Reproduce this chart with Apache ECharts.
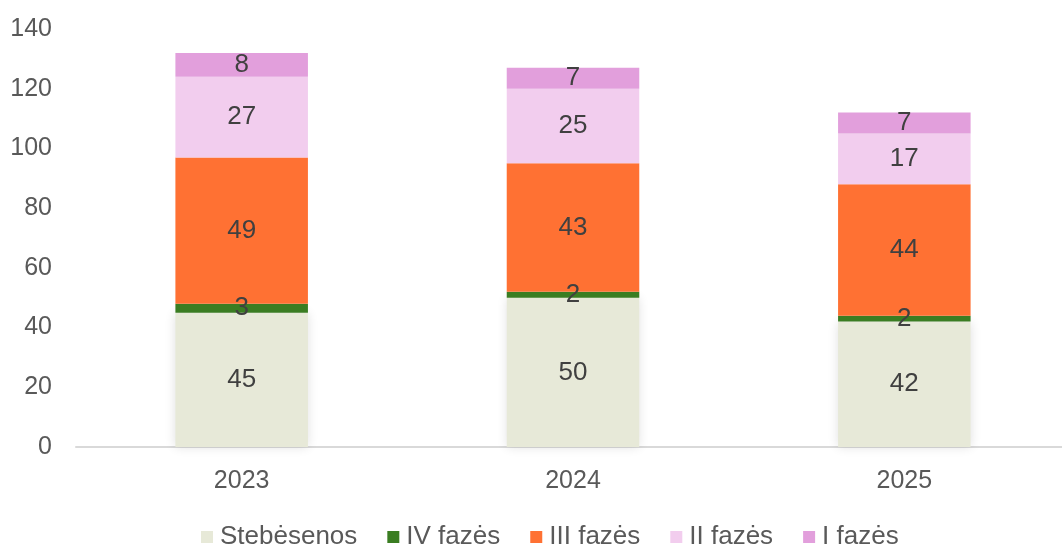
<!DOCTYPE html>
<html>
<head>
<meta charset="utf-8">
<script src="https://cdn.jsdelivr.net/npm/echarts@6/dist/echarts.min.js"></script>
<style>
  html, body { margin: 0; padding: 0; background: #fff; }
  #chart { width: 1062px; height: 544px; }
</style>
</head>
<body>
<div id="chart"></div>
<script>
const years = ['2023', '2024', '2025']
const seriesNames = ['Stebėsenos', 'IV fazės', 'III fazės', 'II fazės', 'I fazės']
const stebesenos = [45, 50, 42]
const faze4 = [3, 2, 2]
const faze3 = [49, 43, 44]
const faze2 = [27, 25, 17]
const faze1 = [8, 7, 7]
const colors = ['#e7e9d8', '#3a7d22', '#ff7133', '#f2cdee', '#e29fdc']

const values = [stebesenos, faze4, faze3, faze2, faze1]
const font = 'Liberation Sans, Arial, sans-serif'

const series = values.map((data, i) => ({
  name: seriesNames[i],
  type: 'bar',
  stack: 'total',
  data: data,
  barWidth: '40%',
  itemStyle: i === 0
    ? { color: colors[i], shadowBlur: 10, shadowColor: 'rgba(0,0,0,0.12)' }
    : { color: colors[i] },
  label: {
    show: true,
    position: 'inside',
    color: '#404040',
    fontSize: 26,
    fontFamily: font,
  },
}))

const chart = echarts.init(document.getElementById('chart'))
chart.setOption({
  animation: false,
  grid: { left: 76, top: 29, width: 994, bottom: 97, outerBoundsMode: 'none', containLabel: false },
  legend: {
    top: 519,
    left: 196,
    itemWidth: 12,
    itemHeight: 12,
    itemGap: 30,
    icon: 'rect',
    textStyle: { color: '#595959', fontSize: 26, fontFamily: font, padding: [0, 0, 0, 2] },
    data: seriesNames,
  },
  xAxis: {
    type: 'category',
    data: years,
    axisTick: { show: false },
    axisLine: { lineStyle: { color: '#d9d9d9', width: 2 } },
    axisLabel: { color: '#595959', fontSize: 25, margin: 22, fontFamily: font },
  },
  yAxis: {
    type: 'value',
    min: 0,
    max: 140,
    interval: 20,
    splitLine: { show: false },
    axisLine: { show: false },
    axisLabel: { color: '#595959', fontSize: 25, margin: 24, fontFamily: font },
  },
  series: series,
})
</script>
</body>
</html>
